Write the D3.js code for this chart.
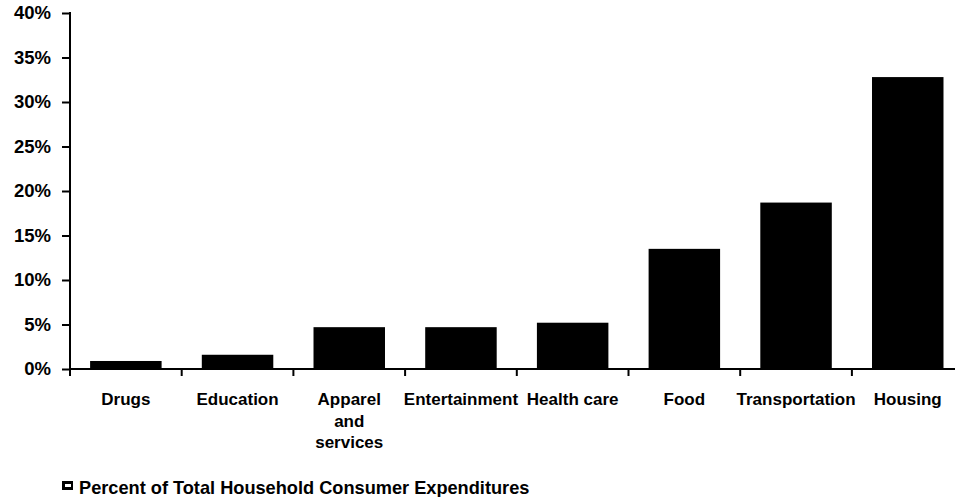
<!DOCTYPE html>
<html>
<head>
<meta charset="utf-8">
<script src="https://cdn.jsdelivr.net/npm/d3@7"></script>
<style>
  body{margin:0;background:#fff;overflow:hidden;}
  svg{display:block;font-family:"Liberation Sans",Arial,sans-serif;font-weight:bold;}
</style>
</head>
<body>
<svg id="chart" width="955" height="497"></svg>
<script>
// data
var categories=["Drugs","Education","Apparel and services","Entertainment","Health care","Food","Transportation","Housing"];
var values=[0.9,1.6,4.7,4.7,5.2,13.5,18.7,32.8];
var yTicks=[0,5,10,15,20,25,30,35,40];
var seriesName="Percent of Total Household Consumer Expenditures";

var svg=d3.select("#chart");

var x=d3.scaleBand()
    .domain(categories)
    .range([70,963.6])
    .paddingInner(0.36)
    .paddingOuter(0.18);
var y=d3.scaleLinear()
    .domain([0,40])
    .range([369,13]);

var step=x.step();
var gap=(step-x.bandwidth())/2;

//bars
svg.append("g").selectAll("rect")
  .data(values)
  .enter().append("rect")
    .attr("x",function(d,i){ return x(categories[i]); })
    .attr("y",function(d){ return y(d); })
    .attr("width",x.bandwidth())
    .attr("height",function(d){ return y(0)-y(d); })
    .attr("fill","#000");

//y axis
var yAxis=svg.append("g")
    .attr("transform","translate(70,0)")
    .call(d3.axisLeft(y).tickValues(yTicks).tickSize(8).tickPadding(11).tickFormat(function(d){ return d+"%"; }));
yAxis.select(".domain").attr("stroke-width",2).attr("d","M0,"+(y(40)-1)+"V"+(y(0)+1));
yAxis.selectAll(".tick line").attr("stroke-width",2);
yAxis.selectAll(".tick text").attr("font-size",18.5).attr("font-weight","bold").attr("fill","#000")
    .attr("font-family","Liberation Sans, Arial, sans-serif");

//x axis line and boundary ticks
svg.append("line")
    .attr("x1",69).attr("x2",955)
    .attr("y1",y(0)).attr("y2",y(0))
    .attr("stroke","#000").attr("stroke-width",2);
svg.append("g").selectAll("line")
  .data(categories)
  .enter().append("line")
    .attr("x1",function(d){ return x(d)-gap; })
    .attr("x2",function(d){ return x(d)-gap; })
    .attr("y1",y(0)).attr("y2",y(0)+7)
    .attr("stroke","#000").attr("stroke-width",2);

//x labels, wrapped word by word like the original
var labels=svg.append("g").selectAll("text")
  .data(categories)
  .enter().append("text")
    .attr("x",function(d){ return x(d)+x.bandwidth()/2; })
    .attr("y",405)
    .attr("text-anchor","middle")
    .attr("font-size",17)
    .attr("fill","#000")
    .each(function(d){
      var t=d3.select(this);
      var words=d.split(" ");
      var line=[];
      var tspan=t.append("tspan").attr("x",x(d)+x.bandwidth()/2).attr("dy",0);
      words.forEach(function(w){
        line.push(w);
        tspan.text(line.join(" "));
        if(tspan.node().getComputedTextLength()>95&&line.length>1){
          line.pop();
          tspan.text(line.join(" "));
          line=[w];
          tspan=t.append("tspan").attr("x",x(d)+x.bandwidth()/2).attr("dy",21.5).text(w);
        }
      });
    });

//legend
var legend=svg.append("g").attr("transform","translate(62,481)");
legend.append("rect").attr("width",11).attr("height",9).attr("fill","#000");
legend.append("rect").attr("x",3).attr("y",3).attr("width",6).attr("height",3).attr("fill","#fff");
legend.append("text")
    .attr("x",17).attr("y",13)
    .attr("font-size",18.2)
    .attr("fill","#000")
    .text(seriesName);
</script>
</body>
</html>
